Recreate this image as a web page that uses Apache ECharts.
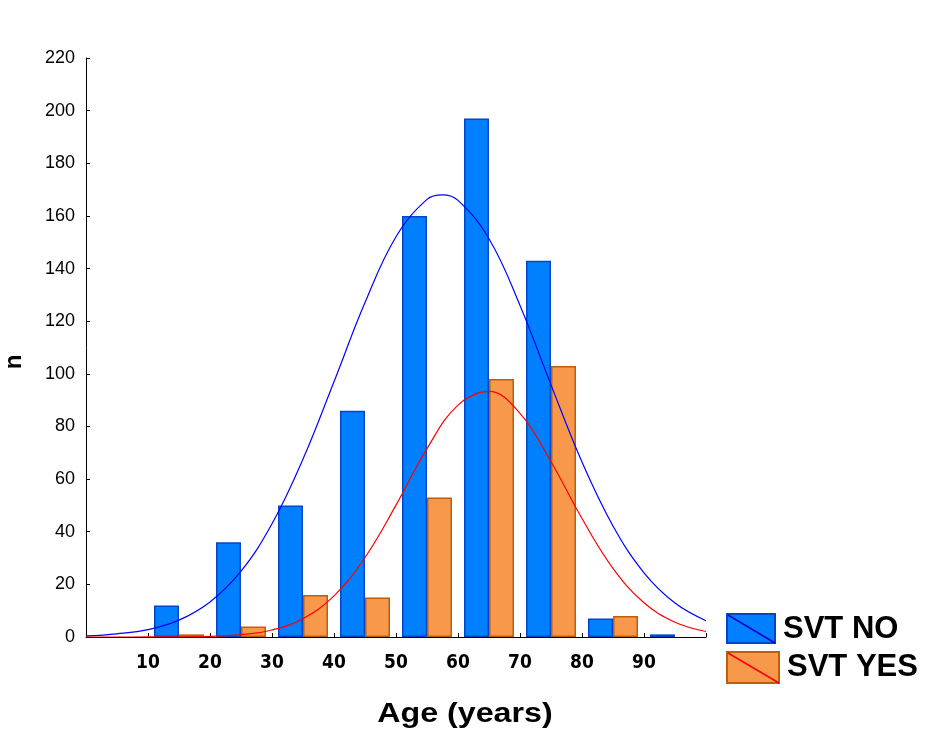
<!DOCTYPE html>
<html>
<head>
<meta charset="utf-8">
<title>Age distribution by SVT</title>
<script src="https://cdn.jsdelivr.net/npm/echarts@6/dist/echarts.min.js"></script>
<style>
  html, body { margin: 0; padding: 0; background: #fff; }
  #chart { width: 926px; height: 731px; }
</style>
</head>
<body>
<div id="chart"></div>
<script>
// Age bins (10-year classes) used by the histogram bars
const ageBins = ['0-10', '10-20', '20-30', '30-40', '40-50', '50-60', '60-70', '70-80', '80-90', '90-100'];

// Counts per age bin
const svtNo  = [null, 12, 36, 50, 86, 160, 197, 143, 7, 1];
const svtYes = [null, 1, 4, 16, 15, 53, 98, 103, 8, null];

// Fitted normal curves, sampled along the age axis
const svtNoFitAges = [0, 5, 10, 15, 20, 25, 30, 35, 40, 45, 50, 55, 57.5, 60, 65, 70, 75, 80, 85, 90, 95, 100];
const svtNoFit     = [0.4, 1.2, 2.8, 6.4, 13.3, 25.0, 43.0, 67.6, 97.0, 127.1, 152.1, 166.3, 168.0, 165.9, 151.3, 126.0, 95.8, 66.5, 42.2, 24.4, 12.9, 6.2];
const svtYesFitAges = [0, 5, 10, 15, 20, 25, 30, 35, 40, 45, 50, 55, 60, 65, 70, 75, 80, 85, 90, 95, 100];
const svtYesFit     = [0.0, 0.0, 0.01, 0.06, 0.25, 0.88, 2.67, 6.97, 15.6, 30.2, 50.1, 71.6, 88.1, 93.3, 85.0, 66.6, 45.0, 26.1, 13.0, 5.6, 2.1];

// Axis ticks
const ageTicks = [10, 20, 30, 40, 50, 60, 70, 80, 90];
const countMax = 220;
const countStep = 20;

const seriesNames = ['SVT NO', 'SVT YES'];

const pairs = (xs, ys) => xs.map((x, i) => [x, ys[i]]);

const chart = echarts.init(document.getElementById('chart'), null, { renderer: 'canvas' });

const option = {
  animation: false,
  backgroundColor: '#ffffff',
  grid: { left: 86, right: 220, top: 58, bottom: 94, containLabel: false },
  xAxis: [
    {
      type: 'value',
      min: 0,
      max: 100,
      interval: 10,
      position: 'bottom',
      axisLine: { show: true, lineStyle: { color: '#000', width: 1 } },
      axisTick: { show: true, inside: true, length: 4, lineStyle: { color: '#000' } },
      splitLine: { show: false },
      axisLabel: {
        margin: 17,
        color: '#000',
        fontFamily: '"Liberation Sans Narrow", "DejaVu Sans Condensed", "Liberation Sans", sans-serif',
        fontWeight: 'bold',
        fontSize: 19,
        formatter: v => (ageTicks.indexOf(v) >= 0 ? String(v) : '')
      }
    },
    {
      type: 'category',
      data: ageBins,
      show: false,
      boundaryGap: true,
      position: 'bottom'
    }
  ],
  yAxis: {
    type: 'value',
    min: 0,
    max: countMax,
    interval: countStep,
    axisLine: { show: true, lineStyle: { color: '#000', width: 1 } },
    axisTick: { show: true, inside: true, length: 4, lineStyle: { color: '#000' } },
    splitLine: { show: false },
    axisLabel: {
      margin: 11,
      color: '#000',
      fontFamily: '"Liberation Sans", Arial, sans-serif',
      fontSize: 18
    }
  },
  series: [
    {
      name: seriesNames[0],
      type: 'bar',
      xAxisIndex: 1,
      data: svtNo,
      barWidth: 25,
      barGap: '0%',
      itemStyle: { color: '#0080FF', borderColor: '#0046C8', borderWidth: 1.5 },
      z: 2
    },
    {
      name: seriesNames[1],
      type: 'bar',
      xAxisIndex: 1,
      data: svtYes,
      barWidth: 25,
      barGap: '0%',
      itemStyle: { color: '#F7984A', borderColor: '#BF5E0A', borderWidth: 1.5 },
      z: 2
    },
    {
      name: seriesNames[0] + ' fit',
      type: 'line',
      xAxisIndex: 0,
      data: pairs(svtNoFitAges, svtNoFit),
      smooth: 0.4,
      showSymbol: false,
      symbol: 'none',
      lineStyle: { color: '#0000FF', width: 1.2 },
      z: 4
    },
    {
      name: seriesNames[1] + ' fit',
      type: 'line',
      xAxisIndex: 0,
      data: pairs(svtYesFitAges, svtYesFit),
      smooth: 0.4,
      showSymbol: false,
      symbol: 'none',
      lineStyle: { color: '#FF0000', width: 1.2 },
      z: 4
    }
  ],
  graphic: [
    // y-axis title
    {
      type: 'text',
      x: 14,
      y: 362,
      rotation: Math.PI / 2,
      style: {
        text: 'n',
        x: 0, y: 0,
        textAlign: 'center',
        textVerticalAlign: 'middle',
        fill: '#000',
        font: 'bold 24px "Liberation Sans", Arial, sans-serif'
      }
    },
    // x-axis title
    {
      type: 'text',
      x: 465,
      y: 714,
      scaleX: 1.15,
      style: {
        text: 'Age (years)',
        x: 0, y: 0,
        textAlign: 'center',
        textVerticalAlign: 'middle',
        fill: '#000',
        font: 'bold 28px "Liberation Sans", Arial, sans-serif'
      }
    },
    // legend: SVT NO
    {
      type: 'rect',
      shape: { x: 727, y: 614, width: 48, height: 29 },
      style: { fill: '#0080FF', stroke: '#0046C8', lineWidth: 2 }
    },
    {
      type: 'line',
      shape: { x1: 728, y1: 615, x2: 775, y2: 643 },
      style: { stroke: '#0000DD', lineWidth: 1.5 }
    },
    {
      type: 'text',
      x: 783,
      y: 629,
      style: {
        text: seriesNames[0],
        textAlign: 'left',
        textVerticalAlign: 'middle',
        fill: '#000',
        font: 'bold 31px "Liberation Sans", Arial, sans-serif'
      }
    },
    // legend: SVT YES
    {
      type: 'rect',
      shape: { x: 727, y: 652, width: 52, height: 31 },
      style: { fill: '#F7984A', stroke: '#BF5E0A', lineWidth: 2 }
    },
    {
      type: 'line',
      shape: { x1: 728, y1: 653, x2: 779, y2: 683 },
      style: { stroke: '#FF0000', lineWidth: 1.5 }
    },
    {
      type: 'text',
      x: 787,
      y: 667,
      style: {
        text: seriesNames[1],
        textAlign: 'left',
        textVerticalAlign: 'middle',
        fill: '#000',
        font: 'bold 31px "Liberation Sans", Arial, sans-serif'
      }
    }
  ]
};

chart.setOption(option);
</script>
</body>
</html>
